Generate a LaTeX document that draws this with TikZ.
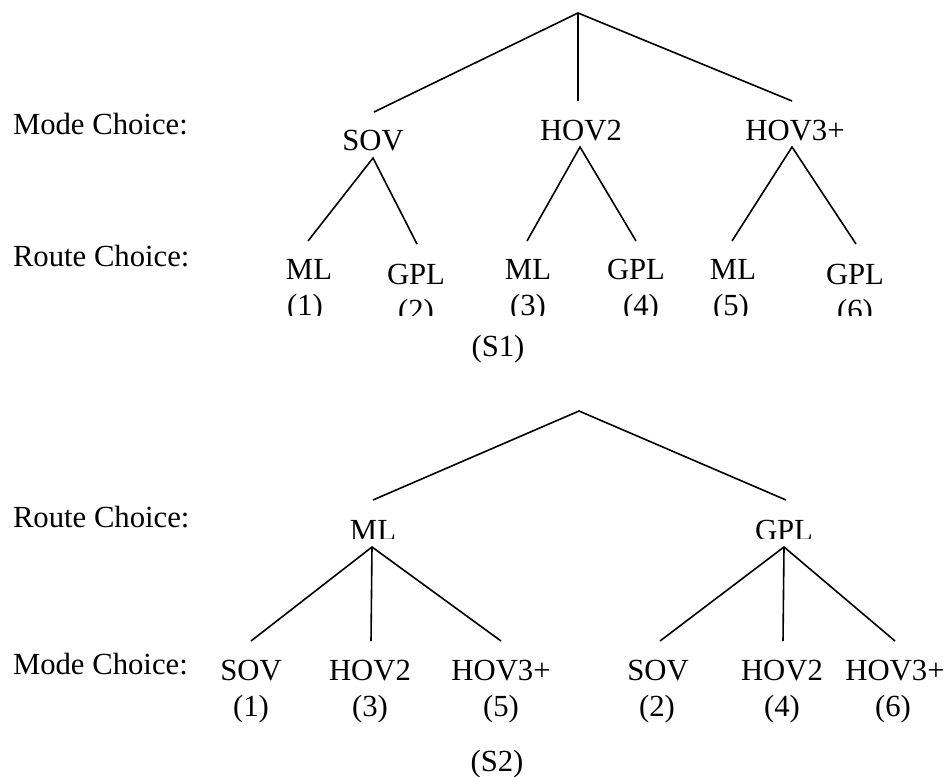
\documentclass[tikz,border=0pt]{standalone}
\usepackage{fontspec}
\setmainfont{Liberation Serif}
\tikzset{
  lbl/.style={inner sep=0pt, outer sep=0pt, anchor=base, font=\fontsize{30.7pt}{36pt}\selectfont},
  lefttxt/.style={lbl, anchor=base west},
  edge/.style={line width=1.6pt, line cap=butt, line join=miter}
}
\begin{document}
\begin{tikzpicture}[x=1pt,y=-1pt]
\useasboundingbox (0,0) rectangle (947,776);

% ---------------- S1 ----------------
\node[lefttxt] (mc1) at (13,134) {Mode Choice:};
\node[lefttxt] (rc1) at (13,266) {Route Choice:};

\coordinate (r1) at (578,13);
\node[lbl] (sov1) at (373,150) {SOV};
\node[lbl] (hov2a) at (581,140) {HOV2};
\node[lbl] (hov3a) at (795,140) {HOV3+};

\coordinate (sov1t) at (374,112);
\coordinate (hov2at) at (578,101);
\coordinate (hov3at) at (792,101);
\draw[edge] (sov1t) -- (r1) -- (hov3at);
\draw[edge] (r1) -- (hov2at);

\coordinate (sov1b) at (373,158);
\coordinate (hov2ab) at (580,147);
\coordinate (hov3ab) at (792,147);

\begin{scope}
\clip (250,240) rectangle (900,315.5);
\node[lbl] (ml1) at (309,279) {ML};
\node[lbl] (p1) at (305,315) {(1)};
\node[lbl] (gpl2) at (416,284) {GPL};
\node[lbl] (p2) at (416,320) {(2)};
\node[lbl] (ml3) at (528,279) {ML};
\node[lbl] (p3) at (528,315) {(3)};
\node[lbl] (gpl4) at (636,279) {GPL};
\node[lbl] (p4) at (641,315) {(4)};
\node[lbl] (ml5) at (733,279) {ML};
\node[lbl] (p5) at (731,315) {(5)};
\node[lbl] (gpl6) at (855,284) {GPL};
\node[lbl] (p6) at (855,320) {(6)};
\end{scope}

\coordinate (ml1t) at (308,241);
\coordinate (gpl2t) at (417,244);
\coordinate (ml3t) at (527,241);
\coordinate (gpl4t) at (636,241);
\coordinate (ml5t) at (732,241);
\coordinate (gpl6t) at (856,244);
\draw[edge] (ml1t) -- (sov1b) -- (gpl2t);
\draw[edge] (ml3t) -- (hov2ab) -- (gpl4t);
\draw[edge] (ml5t) -- (hov3ab) -- (gpl6t);

\node[lbl] (s1) at (498,356) {(S1)};

% ---------------- S2 ----------------
\node[lefttxt] (rc2) at (13,527) {Route Choice:};
\node[lefttxt] (mc2) at (13,674) {Mode Choice:};

\coordinate (r2) at (579,411);
\begin{scope}
\clip (300,500) rectangle (880,538.5);
\node[lbl] (ml2) at (373,540) {ML};
\node[lbl] (gpl2b) at (784,540) {GPL};
\end{scope}
\coordinate (ml2t) at (373,500);
\coordinate (gpl2bt) at (786,500);
\draw[edge] (ml2t) -- (r2) -- (gpl2bt);

\coordinate (ml2b) at (372,547);
\coordinate (gpl2bb) at (784,547);

\node[lbl] (sova) at (251,680) {SOV};
\node[lbl] (q1) at (251,716) {(1)};
\node[lbl] (hov2b) at (370,680) {HOV2};
\node[lbl] (q3) at (370,716) {(3)};
\node[lbl] (hov3b) at (501,680) {HOV3+};
\node[lbl] (q5) at (501,716) {(5)};
\node[lbl] (sovb) at (658,680) {SOV};
\node[lbl] (q2) at (657,716) {(2)};
\node[lbl] (hov2c) at (782,680) {HOV2};
\node[lbl] (q4) at (782,716) {(4)};
\node[lbl] (hov3c) at (895,680) {HOV3+};
\node[lbl] (q6) at (893,716) {(6)};

\coordinate (sovat) at (251,641);
\coordinate (hov2bt) at (371,641);
\coordinate (hov3bt) at (501,641);
\coordinate (sovbt) at (660,641);
\coordinate (hov2ct) at (783,641);
\coordinate (hov3ct) at (895,641);
\draw[edge] (sovat) -- (ml2b) -- (hov3bt);
\draw[edge] (ml2b) -- (hov2bt);
\draw[edge] (sovbt) -- (gpl2bb) -- (hov3ct);
\draw[edge] (gpl2bb) -- (hov2ct);

\node[lbl] (s2) at (497,771) {(S2)};
\end{tikzpicture}
\end{document}
